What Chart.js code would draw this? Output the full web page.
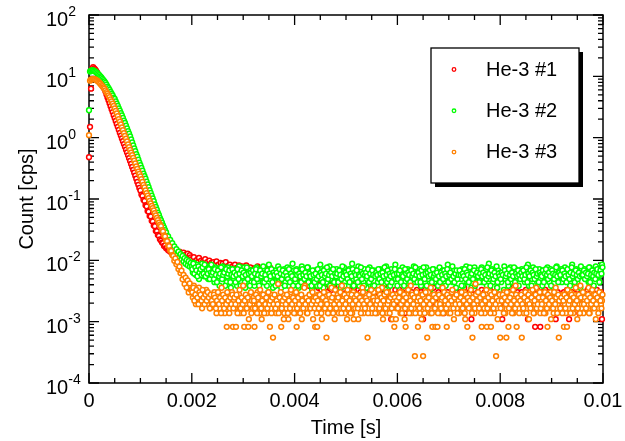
<!DOCTYPE html>
<html>
<head>
<meta charset="utf-8">
<script src="https://cdn.jsdelivr.net/npm/chart.js@4/dist/chart.umd.min.js"></script>
<style>
  html, body { margin: 0; padding: 0; background: #fff; }
  #wrap { width: 625px; height: 441px; position: relative; }
</style>
</head>
<body>
<div id="wrap"><canvas id="decayChart"></canvas></div>
<script>
const FONT = '"Liberation Sans", Arial, sans-serif';

// bin width of the plotted points, and counts -> cps in the flat tail
const binWidth = 20e-6;
const cpsPerCount = 2.75e-4;

const seriesNames = ['He-3 #1', 'He-3 #2', 'He-3 #3'];
const seriesColors = ['#ff0000', '#00ff00', '#ff8000'];
const xTickLabels = ['0', '0.002', '0.004', '0.006', '0.008', '0.01'];
const yTickExponents = [-4, -3, -2, -1, 0, 1, 2];

// decay part, cps, t = 0 .. 1980 us
const redDecay = [0.48, 1.5, 6.3, 13.2, 14.1, 13.5, 13.0, 12.3, 11.5, 10.6,
  9.5, 8.8, 8.1, 7.4, 6.9, 6.3, 5.65, 5.06, 4.53, 4.06,
  3.63, 3.25, 2.91, 2.61, 2.33, 2.09, 1.87, 1.67, 1.50, 1.34,
  1.20, 1.08, 0.97, 0.875, 0.787, 0.708, 0.637, 0.573, 0.515, 0.463,
  0.417, 0.373, 0.334, 0.299, 0.268, 0.24, 0.214, 0.19, 0.17, 0.151,
  0.138, 0.118, 0.112, 0.097, 0.093, 0.079, 0.076, 0.064, 0.062, 0.053,
  0.052, 0.044, 0.043, 0.037, 0.036, 0.030, 0.030, 0.026, 0.025, 0.022,
  0.021, 0.0195, 0.019, 0.0172, 0.0175, 0.0158, 0.016, 0.0146, 0.0152, 0.0138,
  0.0141, 0.0128, 0.0145, 0.0125, 0.0136, 0.0118, 0.0132, 0.0122, 0.0139, 0.0115,
  0.0127, 0.0119, 0.0134, 0.011, 0.0124, 0.0113, 0.0129, 0.0106, 0.0121, 0.0112];

const greenDecay = [2.8, 12.0, 12.3, 12.6, 12.5, 12.3, 12.0, 11.7, 11.3, 10.9,
  10.5, 10.0, 9.6, 9.1, 8.7, 8.3, 7.8, 7.3, 6.8, 6.4,
  6.0, 5.6, 5.2, 4.9, 4.5, 4.27, 3.9, 3.6, 3.3, 3.0,
  2.75, 2.5, 2.3, 2.1, 1.9, 1.74, 1.57, 1.42, 1.28, 1.16,
  1.05, 0.94, 0.84, 0.75, 0.67, 0.60, 0.54, 0.49, 0.44, 0.39,
  0.355, 0.32, 0.29, 0.26, 0.236, 0.214, 0.192, 0.173, 0.156, 0.14,
  0.126, 0.113, 0.102, 0.092, 0.082, 0.074, 0.067, 0.06, 0.055, 0.049,
  0.045, 0.041, 0.037, 0.034, 0.031, 0.0285, 0.025, 0.0245, 0.021, 0.0215,
  0.0185, 0.019, 0.0162, 0.0168, 0.014, 0.0152, 0.0125, 0.0138, 0.0115, 0.0126,
  0.0104, 0.0118, 0.0096, 0.0109, 0.0088, 0.0102, 0.0083, 0.0097, 0.0079, 0.0091];

const orangeDecay = [1.1, 8.5, 8.9, 9.0, 9.1, 9.0, 8.9, 8.7, 8.5, 8.2,
  7.9, 7.6, 7.2, 6.9, 6.6, 6.3, 5.9, 5.5, 5.2, 4.9,
  4.57, 4.2, 3.9, 3.6, 3.3, 3.0, 2.74, 2.48, 2.24, 2.0,
  1.82, 1.64, 1.47, 1.32, 1.19, 1.07, 0.96, 0.87, 0.78, 0.70,
  0.63, 0.57, 0.52, 0.47, 0.42, 0.38, 0.34, 0.31, 0.28, 0.256,
  0.234, 0.21, 0.19, 0.17, 0.154, 0.138, 0.125, 0.113, 0.103, 0.093,
  0.085, 0.077, 0.071, 0.065, 0.059, 0.054, 0.049, 0.045, 0.041, 0.038,
  0.036, 0.031, 0.0295, 0.0255, 0.0245, 0.021, 0.0205, 0.0175, 0.017, 0.0145,
  0.0142, 0.0122, 0.0118, 0.0098, 0.0108, 0.0086, 0.0094, 0.0072, 0.0079, 0.0062,
  0.0068, 0.0049, 0.0058, 0.0041, 0.0052, 0.0036, 0.0047, 0.0030, 0.0042, 0.0033];

// flat tail, counts per bin, t = 2000 .. 9980 us
const redTail = [38, 33, 41, 35, 30, 37, 34, 40, 31, 36, 29, 35, 33, 38, 30, 34, 28, 36, 31, 33,
  30, 34, 27, 32, 35, 28, 31, 26, 33, 29, 32, 25, 30, 34, 27, 29, 24, 31, 28, 26,
  29, 25, 31, 27, 23, 28, 30, 24, 26, 29, 22, 27, 25, 30, 23, 26, 24, 28, 21, 25,
  24, 27, 22, 25, 29, 21, 23, 26, 20, 24, 22, 27, 19, 23, 25, 21, 28, 20, 22, 24,
  20, 23, 18, 22, 25, 19, 21, 17, 23, 20, 18, 24, 19, 16, 21, 18, 22, 17, 20, 19,
  17, 20, 15, 18, 21, 16, 19, 14, 18, 17, 20, 15, 17, 19, 14, 16, 18, 13, 17, 15,
  16, 14, 18, 13, 15, 17, 12, 16, 14, 19, 13, 15, 11, 16, 14, 17, 12, 15, 13, 14,
  13, 15, 11, 14, 16, 12, 13, 10, 15, 12, 14, 11, 16, 13, 9, 12, 14, 11, 13, 15,
  10, 8, 12, 9, 11, 7, 10, 13, 8, 11, 9, 7, 10, 12, 8, 11, 9, 14, 7, 10,
  9, 11, 7, 10, 8, 12, 9, 6, 11, 8, 10, 13, 7, 9, 4, 8, 10, 7, 12, 9,
  8, 10, 12, 7, 9, 11, 8, 5, 10, 9, 13, 7, 10, 8, 11, 9, 7, 10, 8, 12,
  10, 7, 9, 11, 8, 4, 10, 12, 7, 9, 8, 11, 7, 10, 9, 13, 8, 10, 7, 9,
  11, 8, 10, 7, 9, 5, 8, 10, 7, 11, 9, 6, 10, 8, 12, 9, 7, 10, 11, 8,
  9, 11, 7, 10, 8, 13, 9, 7, 10, 8, 11, 9, 4, 10, 7, 12, 8, 9, 11, 10,
  8, 10, 12, 7, 9, 11, 8, 10, 7, 9, 12, 8, 10, 7, 11, 9, 8, 13, 10, 7,
  10, 8, 4, 9, 7, 10, 12, 8, 9, 11, 7, 10, 8, 13, 9, 7, 10, 11, 8, 10,
  9, 11, 7, 10, 8, 12, 9, 4, 10, 8, 11, 9, 7, 10, 3, 9, 12, 8, 10, 3,
  11, 9, 8, 10, 12, 7, 9, 11, 8, 10, 7, 9, 12, 8, 4, 7, 11, 9, 8, 10,
  9, 7, 11, 10, 8, 12, 9, 4, 10, 8, 11, 7, 9, 10, 8, 12, 9, 5, 10, 8,
  11, 9, 8, 10, 7, 12, 9, 10, 8, 11, 9, 7, 10, 8, 12, 9, 10, 8, 11, 4];

const greenTail = [29, 23, 33, 26, 21, 31, 25, 18, 28, 22, 32, 25, 20, 29, 23, 26, 18, 28, 22, 31,
  21, 25, 16, 28, 22, 20, 26, 14, 23, 21, 29, 18, 22, 25, 16, 28, 20, 23, 13, 22,
  26, 18, 21, 25, 14, 22, 29, 20, 16, 23, 21, 28, 13, 22, 18, 26, 20, 25, 16, 21,
  23, 14, 20, 28, 18, 22, 12, 25, 21, 16, 26, 20, 23, 14, 22, 31, 18, 21, 25, 13,
  20, 25, 16, 22, 29, 18, 21, 13, 23, 20, 26, 16, 22, 28, 14, 21, 25, 18, 32, 20,
  22, 16, 26, 20, 13, 23, 21, 29, 18, 22, 14, 25, 20, 28, 16, 21, 23, 12, 22, 18,
  25, 20, 14, 23, 21, 31, 18, 22, 13, 26, 20, 16, 25, 21, 29, 18, 22, 14, 23, 20,
  16, 26, 21, 18, 25, 13, 22, 20, 28, 16, 23, 21, 14, 26, 20, 22, 32, 18, 21, 25,
  18, 22, 29, 14, 21, 25, 20, 16, 26, 22, 13, 23, 20, 28, 18, 21, 14, 25, 22, 20,
  23, 16, 21, 26, 18, 22, 13, 25, 20, 29, 16, 21, 23, 14, 26, 20, 22, 18, 31, 21,
  14, 25, 20, 22, 18, 28, 21, 16, 23, 20, 26, 13, 22, 25, 18, 21, 29, 16, 20, 23,
  21, 18, 26, 14, 22, 20, 25, 16, 28, 21, 18, 23, 12, 22, 20, 26, 16, 21, 25, 18,
  22, 28, 16, 21, 25, 18, 23, 14, 20, 31, 21, 18, 26, 22, 16, 25, 20, 13, 23, 21,
  20, 23, 18, 26, 14, 22, 21, 29, 16, 25, 20, 22, 13, 23, 18, 28, 21, 16, 25, 22,
  18, 21, 28, 16, 23, 20, 25, 14, 22, 32, 18, 21, 26, 16, 22, 20, 23, 13, 25, 21,
  23, 16, 22, 20, 29, 18, 21, 25, 14, 22, 28, 20, 16, 23, 21, 26, 18, 22, 14, 25,
  21, 26, 18, 22, 16, 25, 20, 31, 14, 23, 21, 18, 28, 22, 20, 25, 16, 21, 26, 18,
  22, 14, 25, 20, 23, 18, 28, 21, 16, 26, 22, 20, 13, 25, 21, 29, 18, 23, 20, 22,
  16, 23, 21, 28, 18, 22, 20, 25, 14, 21, 31, 18, 23, 20, 26, 16, 22, 21, 13, 25,
  20, 22, 26, 18, 23, 21, 16, 28, 22, 20, 25, 14, 21, 29, 18, 23, 20, 26, 22, 31];

// green tail, bins in between (t = 2010 .. 9990 us)
const greenTailOdd = [26, 32, 22, 28, 25, 20, 29, 23, 26, 21, 28, 22, 31, 20, 25, 22, 26, 18, 23, 21,
  23, 18, 26, 21, 16, 25, 20, 22, 28, 18, 21, 23, 14, 26, 20, 22, 25, 16, 21, 26,
  20, 23, 16, 21, 26, 18, 22, 14, 25, 20, 23, 16, 21, 28, 18, 22, 14, 23, 20, 25,
  16, 22, 26, 18, 21, 14, 25, 20, 22, 29, 16, 21, 18, 25, 11, 22, 20, 26, 16, 23,
  21, 14, 23, 20, 16, 26, 22, 18, 25, 21, 14, 23, 20, 18, 26, 16, 22, 20, 14, 25,
  18, 25, 21, 14, 22, 20, 16, 26, 21, 18, 23, 20, 28, 16, 22, 20, 14, 25, 21, 16,
  22, 18, 26, 20, 14, 23, 21, 16, 25, 20, 22, 28, 18, 21, 14, 23, 20, 26, 16, 22,
  20, 22, 16, 25, 21, 18, 29, 20, 14, 23, 21, 18, 25, 16, 22, 20, 26, 14, 23, 21,
  25, 16, 21, 20, 28, 18, 22, 14, 21, 23, 20, 26, 16, 22, 18, 25, 21, 14, 20, 23,
  21, 26, 18, 22, 16, 23, 20, 28, 12, 21, 25, 18, 22, 20, 16, 23, 21, 26, 18, 22,
  18, 22, 25, 16, 21, 20, 14, 26, 22, 18, 23, 21, 16, 25, 20, 22, 18, 28, 21, 16,
  23, 20, 16, 25, 21, 28, 18, 22, 14, 23, 20, 25, 21, 16, 26, 20, 22, 18, 23, 14,
  20, 16, 23, 21, 18, 25, 22, 20, 26, 16, 21, 23, 18, 29, 20, 16, 22, 25, 18, 21,
  25, 21, 14, 22, 20, 26, 18, 23, 21, 16, 28, 20, 22, 18, 25, 14, 21, 23, 20, 16,
  22, 26, 20, 23, 16, 21, 18, 28, 20, 22, 14, 25, 21, 18, 23, 20, 29, 16, 22, 20,
  18, 23, 21, 12, 25, 20, 22, 16, 26, 21, 18, 23, 20, 28, 16, 22, 20, 25, 21, 18,
  23, 20, 25, 18, 21, 28, 16, 22, 20, 25, 14, 23, 21, 18, 26, 20, 22, 16, 23, 21,
  20, 25, 16, 22, 26, 21, 18, 23, 20, 14, 25, 22, 18, 21, 28, 20, 16, 23, 21, 26,
  25, 18, 22, 20, 16, 26, 21, 18, 23, 28, 20, 22, 16, 25, 21, 18, 23, 20, 29, 21,
  21, 25, 18, 23, 20, 22, 28, 16, 21, 25, 20, 23, 18, 22, 26, 21, 16, 25, 22, 28];

const orangeTail = [12, 9, 14, 10, 7, 11, 9, 13, 8, 10, 6, 9, 11, 8, 12, 7, 9, 10, 6, 8,
  9, 7, 11, 8, 5, 10, 8, 6, 9, 13, 7, 8, 5, 9, 3, 7, 10, 6, 8, 11,
  3, 8, 6, 3, 9, 7, 10, 5, 8, 6, 14, 3, 7, 9, 6, 3, 8, 10, 5, 7,
  9, 3, 6, 8, 11, 7, 5, 9, 4, 8, 6, 10, 7, 5, 9, 8, 3, 6, 10, 2,
  8, 7, 5, 9, 15, 6, 8, 3, 7, 10, 5, 8, 6, 9, 4, 7, 11, 8, 6, 9,
  7, 5, 3, 8, 10, 6, 9, 4, 7, 8, 14, 6, 5, 9, 7, 10, 6, 8, 4, 9,
  3, 7, 3, 10, 6, 8, 5, 9, 7, 11, 6, 2, 8, 5, 9, 7, 13, 6, 8, 4,
  9, 7, 10, 5, 8, 6, 14, 7, 9, 5, 8, 4, 10, 6, 7, 9, 5, 11, 8, 6,
  7, 10, 4, 8, 6, 9, 13, 5, 8, 7, 10, 2, 6, 9, 7, 5, 8, 11, 6, 9,
  5, 8, 7, 10, 6, 13, 4, 9, 7, 8, 5, 11, 6, 9, 7, 4, 8, 3, 10, 6,
  8, 6, 9, 5, 11, 7, 8, 4, 3, 10, 6, 9, 7, 14, 5, 8, 6, 1, 9, 7,
  3, 8, 5, 10, 7, 1, 9, 6, 8, 2, 11, 7, 5, 9, 3, 8, 6, 3, 10, 3,
  7, 9, 5, 8, 13, 6, 10, 7, 3, 9, 5, 8, 6, 11, 7, 4, 9, 8, 6, 10,
  5, 8, 7, 9, 6, 11, 4, 8, 3, 7, 10, 6, 9, 2, 8, 5, 15, 7, 6, 9,
  8, 6, 3, 10, 7, 5, 9, 3, 8, 6, 11, 3, 7, 9, 5, 8, 1, 6, 10, 7,
  2, 9, 6, 8, 11, 5, 2, 7, 3, 9, 6, 10, 8, 5, 7, 14, 3, 8, 6, 9,
  7, 2, 9, 5, 8, 10, 6, 7, 4, 11, 8, 6, 9, 5, 7, 13, 6, 8, 10, 5,
  8, 6, 9, 7, 5, 10, 3, 8, 6, 11, 7, 9, 5, 8, 13, 6, 7, 2, 9, 6,
  8, 10, 3, 7, 5, 3, 9, 6, 11, 8, 7, 5, 10, 6, 9, 4, 8, 7, 14, 6,
  9, 5, 8, 10, 6, 7, 13, 5, 9, 8, 6, 10, 7, 4, 8, 9, 6, 11, 7, 8];

// orange tail, bins in between (t = 2010 .. 9990 us)
const orangeTailOdd = [11, 13, 8, 10, 12, 9, 7, 11, 10, 8, 12, 9, 7, 10, 8, 11, 9, 6, 10, 8,
  7, 10, 9, 6, 8, 11, 7, 9, 5, 8, 10, 6, 9, 7, 11, 8, 5, 9, 7, 10,
  6, 9, 7, 10, 5, 8, 12, 6, 9, 7, 5, 8, 10, 6, 9, 4, 7, 11, 8, 6,
  8, 6, 10, 5, 9, 7, 12, 6, 8, 10, 5, 7, 9, 6, 11, 7, 8, 5, 9, 7,
  10, 6, 8, 7, 5, 9, 11, 6, 8, 4, 9, 7, 10, 5, 8, 6, 12, 7, 9, 5,
  8, 11, 6, 9, 7, 5, 10, 8, 6, 13, 7, 9, 5, 8, 10, 6, 7, 11, 8, 6,
  9, 5, 8, 6, 10, 7, 4, 9, 11, 6, 8, 7, 5, 10, 6, 8, 9, 5, 7, 12,
  6, 8, 9, 7, 11, 5, 8, 6, 10, 7, 9, 12, 6, 8, 5, 10, 7, 4, 9, 8,
  10, 6, 7, 9, 5, 8, 11, 7, 6, 9, 8, 5, 10, 7, 12, 6, 9, 8, 5, 7,
  8, 12, 6, 7, 9, 5, 8, 10, 6, 11, 7, 8, 5, 9, 6, 10, 7, 9, 4, 8,
  6, 9, 11, 7, 5, 8, 10, 6, 9, 7, 12, 5, 8, 6, 10, 7, 9, 5, 11, 8,
  9, 6, 8, 4, 10, 7, 5, 11, 8, 6, 9, 7, 13, 5, 8, 10, 6, 9, 7, 5,
  10, 7, 6, 9, 5, 11, 8, 6, 10, 7, 9, 5, 8, 12, 6, 9, 7, 10, 5, 8,
  7, 9, 11, 6, 8, 5, 10, 7, 9, 6, 8, 12, 5, 9, 7, 6, 10, 8, 11, 6,
  9, 5, 7, 10, 6, 8, 12, 6, 9, 7, 5, 10, 8, 6, 11, 7, 9, 4, 8, 10,
  6, 8, 10, 5, 9, 7, 11, 8, 6, 9, 7, 5, 12, 8, 6, 10, 7, 9, 5, 8,
  10, 7, 6, 9, 11, 5, 8, 10, 7, 6, 9, 12, 5, 8, 10, 6, 7, 9, 11, 6,
  7, 9, 5, 11, 8, 6, 10, 7, 9, 4, 8, 6, 11, 7, 9, 5, 10, 8, 6, 9,
  5, 8, 10, 6, 9, 12, 7, 8, 5, 10, 6, 9, 7, 13, 8, 6, 10, 5, 9, 7,
  11, 7, 9, 6, 8, 10, 5, 9, 7, 12, 8, 6, 10, 7, 9, 5, 11, 8, 6, 10];

function buildPoints(decay, tail, tailOdd) {
  const pts = decay.map((v, i) => ({ x: i * binWidth, y: v }));
  tail.forEach((c, i) => pts.push({ x: (decay.length + i) * binWidth, y: c * cpsPerCount }));
  (tailOdd || []).forEach((c, i) => pts.push({ x: (decay.length + i + 0.5) * binWidth, y: c * cpsPerCount }));
  return pts;
}

const seriesData = [
  buildPoints(redDecay, redTail),
  buildPoints(greenDecay, greenTail, greenTailOdd),
  buildPoints(orangeDecay, orangeTail, orangeTailOdd)
];

// frame with inward ticks on all four sides + 10^n labels
const frameTicks = {
  id: 'frameTicks',
  beforeDatasetsDraw(chart) {
    const { ctx, chartArea: a, scales: { x, y } } = chart;
    ctx.save();
    ctx.strokeStyle = '#000';
    ctx.lineWidth = 1.3;
    ctx.beginPath();
    for (let k = 0; k <= 20; k++) {
      const px = x.getPixelForValue(k * 0.0005);
      const len = k % 4 === 0 ? 10 : 5;
      ctx.moveTo(px, a.bottom); ctx.lineTo(px, a.bottom - len);
      ctx.moveTo(px, a.top); ctx.lineTo(px, a.top + len);
    }
    for (let e = -4; e <= 2; e++) {
      for (let m = 1; m <= 9; m++) {
        if (e === 2 && m > 1) break;
        const py = y.getPixelForValue(m * Math.pow(10, e));
        const len = m === 1 ? 10 : 5;
        ctx.moveTo(a.left, py); ctx.lineTo(a.left + len, py);
        ctx.moveTo(a.right, py); ctx.lineTo(a.right - len, py);
      }
    }
    ctx.stroke();
    ctx.lineWidth = 1.5;
    ctx.strokeRect(a.left, a.top, a.right - a.left, a.bottom - a.top);

    ctx.fillStyle = '#000';
    ctx.textAlign = 'left';
    ctx.textBaseline = 'alphabetic';
    yTickExponents.forEach(e => {
      const py = y.getPixelForValue(Math.pow(10, e));
      ctx.font = '20px ' + FONT;
      ctx.fillText('10', 46, py + 11);
      const w = ctx.measureText('10').width;
      ctx.font = '14px ' + FONT;
      ctx.fillText(String(e), 46 + w, py + 1);
    });
    ctx.restore();
  }
};

// boxed legend with drop shadow
const boxLegend = {
  id: 'boxLegend',
  afterDraw(chart) {
    const { ctx } = chart;
    const bx = 431, by = 48, bw = 148, bh = 135;
    ctx.save();
    ctx.fillStyle = '#000';
    ctx.fillRect(bx + 4, by + 4, bw, bh);
    ctx.fillStyle = '#fff';
    ctx.fillRect(bx, by, bw, bh);
    ctx.strokeStyle = '#000';
    ctx.lineWidth = 1.3;
    ctx.strokeRect(bx, by, bw, bh);
    chart.data.datasets.forEach((ds, i) => {
      const cy = 69.5 + i * 41.3;
      ctx.beginPath();
      ctx.arc(454, cy, 1.8, 0, 2 * Math.PI);
      ctx.strokeStyle = ds.borderColor;
      ctx.lineWidth = 1.3;
      ctx.stroke();
      ctx.fillStyle = '#000';
      ctx.font = '20px ' + FONT;
      ctx.textAlign = 'left';
      ctx.textBaseline = 'middle';
      ctx.fillText(ds.label, 486, cy + 0.5);
    });
    ctx.restore();
  }
};

new Chart(document.getElementById('decayChart'), {
  type: 'scatter',
  data: {
    datasets: seriesNames.map((name, i) => ({
      label: name,
      data: seriesData[i],
      borderColor: seriesColors[i],
      backgroundColor: '#fff',
      pointRadius: 2.4,
      pointBorderWidth: 1.5,
      showLine: false,
      clip: false,
      order: 3 - i
    }))
  },
  options: {
    responsive: true,
    maintainAspectRatio: false,
    animation: false,
    events: [],
    layout: { padding: { top: 15, right: 22, bottom: 0, left: 0 } },
    plugins: {
      legend: { display: false },
      tooltip: { enabled: false }
    },
    scales: {
      x: {
        type: 'linear',
        min: 0,
        max: 0.01,
        grid: { display: false },
        border: { display: false },
        ticks: {
          stepSize: 0.002,
          padding: -2,
          color: '#000',
          font: { family: FONT, size: 20 },
          maxRotation: 0,
          callback: (v, idx) => xTickLabels[idx]
        },
        title: {
          display: true,
          text: 'Time [s]',
          color: '#000',
          font: { family: FONT, size: 20 },
          padding: { top: 0, bottom: 1 }
        },
        afterFit: s => { s.height = 58; }
      },
      y: {
        type: 'logarithmic',
        min: 1e-4,
        max: 1e2,
        grid: { display: false },
        border: { display: false },
        ticks: { display: false },
        title: {
          display: true,
          text: 'Count [cps]',
          color: '#000',
          font: { family: FONT, size: 20 },
          padding: { top: 15, bottom: 0 }
        },
        afterFit: s => { s.width = 89; }
      }
    }
  },
  plugins: [frameTicks, boxLegend]
});
</script>
</body>
</html>
